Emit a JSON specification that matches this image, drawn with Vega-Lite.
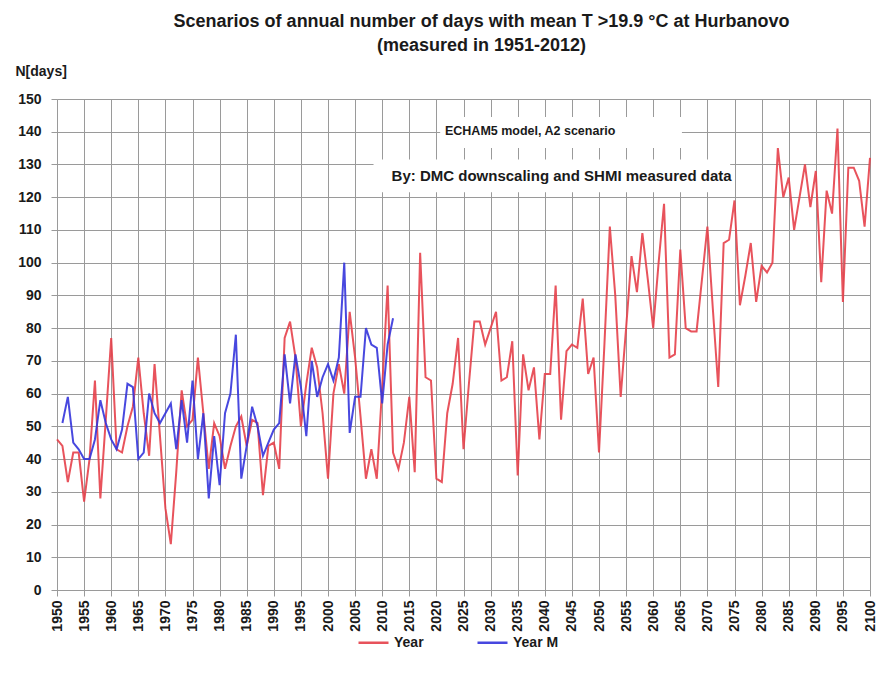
{
  "$schema": "https://vega.github.io/schema/vega-lite/v6.json",
  "width": 813,
  "height": 491,
  "autosize": "none",
  "padding": {"left": 57, "top": 99, "right": 9, "bottom": 87},
  "background": "white",
  "title": {
    "text": ["Scenarios of annual number of days with mean T >19.9 °C at Hurbanovo", "(measured in 1951-2012)"],
    "font": "Liberation Sans",
    "fontSize": 18,
    "fontWeight": "bold",
    "color": "#1a1a1a",
    "anchor": "middle",
    "frame": "group",
    "dx": 18,
    "offset": 9,
    "lineHeight": 24
  },
  "config": {
    "view": {"stroke": null},
    "font": "Liberation Sans",
    "axis": {
      "gridColor": "#9a9a9a",
      "gridWidth": 1,
      "gridOpacity": 1,
      "domainColor": "#9a9a9a",
      "tickColor": "#9a9a9a",
      "tickSize": 6,
      "labelFont": "Liberation Sans",
      "labelFontWeight": "bold",
      "labelColor": "#1a1a1a"
    },
    "axisX": {
      "title": null,
      "format": "d",
      "labelAngle": -90,
      "labelFontSize": 14,
      "labelPadding": 4,
      "labelOverlap": false
    },
    "axisY": {
      "labelOverlap": false,
      "labelFontSize": 14,
      "labelPadding": 10,
      "titleAngle": 0,
      "titleAlign": "left",
      "titleBaseline": "middle",
      "titleX": -42,
      "titleY": -28,
      "titleFont": "Liberation Sans",
      "titleFontSize": 14,
      "titleFontWeight": "bold",
      "titleColor": "#1a1a1a"
    }
  },
  "datasets": {
    "series": [
      {"year": 1950, "days": 46, "series": "Year"},
      {"year": 1951, "days": 44, "series": "Year"},
      {"year": 1952, "days": 33, "series": "Year"},
      {"year": 1953, "days": 42, "series": "Year"},
      {"year": 1954, "days": 42, "series": "Year"},
      {"year": 1955, "days": 27, "series": "Year"},
      {"year": 1956, "days": 40, "series": "Year"},
      {"year": 1957, "days": 64, "series": "Year"},
      {"year": 1958, "days": 28, "series": "Year"},
      {"year": 1959, "days": 52, "series": "Year"},
      {"year": 1960, "days": 77, "series": "Year"},
      {"year": 1961, "days": 43, "series": "Year"},
      {"year": 1962, "days": 42, "series": "Year"},
      {"year": 1963, "days": 50, "series": "Year"},
      {"year": 1964, "days": 56, "series": "Year"},
      {"year": 1965, "days": 71, "series": "Year"},
      {"year": 1966, "days": 54, "series": "Year"},
      {"year": 1967, "days": 41, "series": "Year"},
      {"year": 1968, "days": 69, "series": "Year"},
      {"year": 1969, "days": 47, "series": "Year"},
      {"year": 1970, "days": 25, "series": "Year"},
      {"year": 1971, "days": 14, "series": "Year"},
      {"year": 1972, "days": 36, "series": "Year"},
      {"year": 1973, "days": 61, "series": "Year"},
      {"year": 1974, "days": 50, "series": "Year"},
      {"year": 1975, "days": 52, "series": "Year"},
      {"year": 1976, "days": 71, "series": "Year"},
      {"year": 1977, "days": 54, "series": "Year"},
      {"year": 1978, "days": 37, "series": "Year"},
      {"year": 1979, "days": 51, "series": "Year"},
      {"year": 1980, "days": 47, "series": "Year"},
      {"year": 1981, "days": 37, "series": "Year"},
      {"year": 1982, "days": 44, "series": "Year"},
      {"year": 1983, "days": 50, "series": "Year"},
      {"year": 1984, "days": 53, "series": "Year"},
      {"year": 1985, "days": 44, "series": "Year"},
      {"year": 1986, "days": 52, "series": "Year"},
      {"year": 1987, "days": 51, "series": "Year"},
      {"year": 1988, "days": 29, "series": "Year"},
      {"year": 1989, "days": 44, "series": "Year"},
      {"year": 1990, "days": 45, "series": "Year"},
      {"year": 1991, "days": 37, "series": "Year"},
      {"year": 1992, "days": 77, "series": "Year"},
      {"year": 1993, "days": 82, "series": "Year"},
      {"year": 1994, "days": 71, "series": "Year"},
      {"year": 1995, "days": 50, "series": "Year"},
      {"year": 1996, "days": 63, "series": "Year"},
      {"year": 1997, "days": 74, "series": "Year"},
      {"year": 1998, "days": 68, "series": "Year"},
      {"year": 1999, "days": 54, "series": "Year"},
      {"year": 2000, "days": 34, "series": "Year"},
      {"year": 2001, "days": 60, "series": "Year"},
      {"year": 2002, "days": 69, "series": "Year"},
      {"year": 2003, "days": 60, "series": "Year"},
      {"year": 2004, "days": 85, "series": "Year"},
      {"year": 2005, "days": 71, "series": "Year"},
      {"year": 2006, "days": 53, "series": "Year"},
      {"year": 2007, "days": 34, "series": "Year"},
      {"year": 2008, "days": 43, "series": "Year"},
      {"year": 2009, "days": 34, "series": "Year"},
      {"year": 2010, "days": 62, "series": "Year"},
      {"year": 2011, "days": 93, "series": "Year"},
      {"year": 2012, "days": 42, "series": "Year"},
      {"year": 2013, "days": 37, "series": "Year"},
      {"year": 2014, "days": 45, "series": "Year"},
      {"year": 2015, "days": 59, "series": "Year"},
      {"year": 2016, "days": 36, "series": "Year"},
      {"year": 2017, "days": 103, "series": "Year"},
      {"year": 2018, "days": 65, "series": "Year"},
      {"year": 2019, "days": 64, "series": "Year"},
      {"year": 2020, "days": 34, "series": "Year"},
      {"year": 2021, "days": 33, "series": "Year"},
      {"year": 2022, "days": 54, "series": "Year"},
      {"year": 2023, "days": 63, "series": "Year"},
      {"year": 2024, "days": 77, "series": "Year"},
      {"year": 2025, "days": 43, "series": "Year"},
      {"year": 2026, "days": 63, "series": "Year"},
      {"year": 2027, "days": 82, "series": "Year"},
      {"year": 2028, "days": 82, "series": "Year"},
      {"year": 2029, "days": 75, "series": "Year"},
      {"year": 2030, "days": 80, "series": "Year"},
      {"year": 2031, "days": 85, "series": "Year"},
      {"year": 2032, "days": 64, "series": "Year"},
      {"year": 2033, "days": 65, "series": "Year"},
      {"year": 2034, "days": 76, "series": "Year"},
      {"year": 2035, "days": 35, "series": "Year"},
      {"year": 2036, "days": 72, "series": "Year"},
      {"year": 2037, "days": 61, "series": "Year"},
      {"year": 2038, "days": 68, "series": "Year"},
      {"year": 2039, "days": 46, "series": "Year"},
      {"year": 2040, "days": 66, "series": "Year"},
      {"year": 2041, "days": 66, "series": "Year"},
      {"year": 2042, "days": 93, "series": "Year"},
      {"year": 2043, "days": 52, "series": "Year"},
      {"year": 2044, "days": 73, "series": "Year"},
      {"year": 2045, "days": 75, "series": "Year"},
      {"year": 2046, "days": 74, "series": "Year"},
      {"year": 2047, "days": 89, "series": "Year"},
      {"year": 2048, "days": 66, "series": "Year"},
      {"year": 2049, "days": 71, "series": "Year"},
      {"year": 2050, "days": 42, "series": "Year"},
      {"year": 2051, "days": 75, "series": "Year"},
      {"year": 2052, "days": 111, "series": "Year"},
      {"year": 2053, "days": 90, "series": "Year"},
      {"year": 2054, "days": 59, "series": "Year"},
      {"year": 2055, "days": 80, "series": "Year"},
      {"year": 2056, "days": 102, "series": "Year"},
      {"year": 2057, "days": 91, "series": "Year"},
      {"year": 2058, "days": 109, "series": "Year"},
      {"year": 2059, "days": 95, "series": "Year"},
      {"year": 2060, "days": 80, "series": "Year"},
      {"year": 2061, "days": 100, "series": "Year"},
      {"year": 2062, "days": 118, "series": "Year"},
      {"year": 2063, "days": 71, "series": "Year"},
      {"year": 2064, "days": 72, "series": "Year"},
      {"year": 2065, "days": 104, "series": "Year"},
      {"year": 2066, "days": 80, "series": "Year"},
      {"year": 2067, "days": 79, "series": "Year"},
      {"year": 2068, "days": 79, "series": "Year"},
      {"year": 2069, "days": 95, "series": "Year"},
      {"year": 2070, "days": 111, "series": "Year"},
      {"year": 2071, "days": 86, "series": "Year"},
      {"year": 2072, "days": 62, "series": "Year"},
      {"year": 2073, "days": 106, "series": "Year"},
      {"year": 2074, "days": 107, "series": "Year"},
      {"year": 2075, "days": 119, "series": "Year"},
      {"year": 2076, "days": 87, "series": "Year"},
      {"year": 2077, "days": 96, "series": "Year"},
      {"year": 2078, "days": 106, "series": "Year"},
      {"year": 2079, "days": 88, "series": "Year"},
      {"year": 2080, "days": 99, "series": "Year"},
      {"year": 2081, "days": 97, "series": "Year"},
      {"year": 2082, "days": 100, "series": "Year"},
      {"year": 2083, "days": 135, "series": "Year"},
      {"year": 2084, "days": 120, "series": "Year"},
      {"year": 2085, "days": 126, "series": "Year"},
      {"year": 2086, "days": 110, "series": "Year"},
      {"year": 2087, "days": 120, "series": "Year"},
      {"year": 2088, "days": 130, "series": "Year"},
      {"year": 2089, "days": 117, "series": "Year"},
      {"year": 2090, "days": 128, "series": "Year"},
      {"year": 2091, "days": 94, "series": "Year"},
      {"year": 2092, "days": 122, "series": "Year"},
      {"year": 2093, "days": 115, "series": "Year"},
      {"year": 2094, "days": 141, "series": "Year"},
      {"year": 2095, "days": 88, "series": "Year"},
      {"year": 2096, "days": 129, "series": "Year"},
      {"year": 2097, "days": 129, "series": "Year"},
      {"year": 2098, "days": 125, "series": "Year"},
      {"year": 2099, "days": 111, "series": "Year"},
      {"year": 2100, "days": 132, "series": "Year"},
      {"year": 1951, "days": 51, "series": "Year M"},
      {"year": 1952, "days": 59, "series": "Year M"},
      {"year": 1953, "days": 45, "series": "Year M"},
      {"year": 1954, "days": 43, "series": "Year M"},
      {"year": 1955, "days": 40, "series": "Year M"},
      {"year": 1956, "days": 40, "series": "Year M"},
      {"year": 1957, "days": 46, "series": "Year M"},
      {"year": 1958, "days": 58, "series": "Year M"},
      {"year": 1959, "days": 51, "series": "Year M"},
      {"year": 1960, "days": 46, "series": "Year M"},
      {"year": 1961, "days": 43, "series": "Year M"},
      {"year": 1962, "days": 49, "series": "Year M"},
      {"year": 1963, "days": 63, "series": "Year M"},
      {"year": 1964, "days": 62, "series": "Year M"},
      {"year": 1965, "days": 40, "series": "Year M"},
      {"year": 1966, "days": 42, "series": "Year M"},
      {"year": 1967, "days": 60, "series": "Year M"},
      {"year": 1968, "days": 54, "series": "Year M"},
      {"year": 1969, "days": 51, "series": "Year M"},
      {"year": 1970, "days": 54, "series": "Year M"},
      {"year": 1971, "days": 57, "series": "Year M"},
      {"year": 1972, "days": 43, "series": "Year M"},
      {"year": 1973, "days": 58, "series": "Year M"},
      {"year": 1974, "days": 45, "series": "Year M"},
      {"year": 1975, "days": 64, "series": "Year M"},
      {"year": 1976, "days": 40, "series": "Year M"},
      {"year": 1977, "days": 54, "series": "Year M"},
      {"year": 1978, "days": 28, "series": "Year M"},
      {"year": 1979, "days": 47, "series": "Year M"},
      {"year": 1980, "days": 32, "series": "Year M"},
      {"year": 1981, "days": 54, "series": "Year M"},
      {"year": 1982, "days": 60, "series": "Year M"},
      {"year": 1983, "days": 78, "series": "Year M"},
      {"year": 1984, "days": 34, "series": "Year M"},
      {"year": 1985, "days": 44, "series": "Year M"},
      {"year": 1986, "days": 56, "series": "Year M"},
      {"year": 1987, "days": 50, "series": "Year M"},
      {"year": 1988, "days": 41, "series": "Year M"},
      {"year": 1989, "days": 45, "series": "Year M"},
      {"year": 1990, "days": 49, "series": "Year M"},
      {"year": 1991, "days": 51, "series": "Year M"},
      {"year": 1992, "days": 72, "series": "Year M"},
      {"year": 1993, "days": 57, "series": "Year M"},
      {"year": 1994, "days": 72, "series": "Year M"},
      {"year": 1995, "days": 62, "series": "Year M"},
      {"year": 1996, "days": 47, "series": "Year M"},
      {"year": 1997, "days": 70, "series": "Year M"},
      {"year": 1998, "days": 59, "series": "Year M"},
      {"year": 1999, "days": 65, "series": "Year M"},
      {"year": 2000, "days": 69, "series": "Year M"},
      {"year": 2001, "days": 64, "series": "Year M"},
      {"year": 2002, "days": 71, "series": "Year M"},
      {"year": 2003, "days": 100, "series": "Year M"},
      {"year": 2004, "days": 48, "series": "Year M"},
      {"year": 2005, "days": 59, "series": "Year M"},
      {"year": 2006, "days": 59, "series": "Year M"},
      {"year": 2007, "days": 80, "series": "Year M"},
      {"year": 2008, "days": 75, "series": "Year M"},
      {"year": 2009, "days": 74, "series": "Year M"},
      {"year": 2010, "days": 57, "series": "Year M"},
      {"year": 2011, "days": 75, "series": "Year M"},
      {"year": 2012, "days": 83, "series": "Year M"}
    ],
    "notes": [
      {"label": "ECHAM5 model, A2 scenario"},
      {"label": "By: DMC downscaling and SHMI measured data"}
    ]
  },
  "layer": [
    {
      "data": {"name": "series"},
      "mark": {"type": "line", "strokeWidth": 2, "opacity": 0.9},
      "encoding": {
        "x": {
          "field": "year",
          "type": "quantitative",
          "scale": {"domain": [1950, 2100], "nice": false, "zero": false},
          "axis": {"tickCount": 30}
        },
        "y": {
          "field": "days",
          "type": "quantitative",
          "scale": {"domain": [0, 150], "nice": false},
          "axis": {"title": "N[days]", "tickCount": 15}
        },
        "color": {
          "field": "series",
          "type": "nominal",
          "scale": {"domain": ["Year", "Year M"], "range": ["#e5404a", "#3434dc"]},
          "legend": {
            "title": null,
            "orient": "none",
            "direction": "horizontal",
            "legendX": 300,
            "legendY": 527,
            "symbolType": "stroke",
            "symbolSize": 900,
            "symbolStrokeWidth": 2.5,
            "labelFont": "Liberation Sans",
            "labelFontSize": 14,
            "labelFontWeight": "bold",
            "labelColor": "#1a1a1a",
            "labelOffset": 4,
            "columnPadding": 48
          }
        },
        "detail": {"field": "series"}
      }
    },
    {
      "data": {"values": [{}]},
      "mark": {"type": "rect", "color": "white"},
      "encoding": {
        "x": {"datum": 2020.7, "type": "quantitative", "axis": {"tickCount": 30}},
        "x2": {"datum": 2065.3},
        "y": {"datum": 144.5, "type": "quantitative", "axis": {"title": "N[days]", "tickCount": 15}},
        "y2": {"datum": 135}
      }
    },
    {
      "data": {"values": [{}]},
      "mark": {"type": "rect", "color": "white"},
      "encoding": {
        "x": {"datum": 2008.4, "type": "quantitative", "axis": {"tickCount": 30}},
        "x2": {"datum": 2074.2},
        "y": {"datum": 131.5, "type": "quantitative", "axis": {"title": "N[days]", "tickCount": 15}},
        "y2": {"datum": 121.5}
      }
    },
    {
      "data": {"name": "notes"},
      "transform": [{"filter": "datum.label === 'ECHAM5 model, A2 scenario'"}],
      "mark": {"type": "text", "font": "Liberation Sans", "fontSize": 12.5, "fontWeight": "bold", "color": "#1a1a1a", "align": "center", "baseline": "middle"},
      "encoding": {
        "x": {"datum": 2037.3, "type": "quantitative", "axis": {"tickCount": 30}},
        "y": {"datum": 140.3, "type": "quantitative", "axis": {"title": "N[days]", "tickCount": 15}},
        "text": {"field": "label"}
      }
    },
    {
      "data": {"name": "notes"},
      "transform": [{"filter": "datum.label !== 'ECHAM5 model, A2 scenario'"}],
      "mark": {"type": "text", "font": "Liberation Sans", "fontSize": 15, "fontWeight": "bold", "color": "#1a1a1a", "align": "center", "baseline": "middle"},
      "encoding": {
        "x": {"datum": 2043.1, "type": "quantitative", "axis": {"tickCount": 30}},
        "y": {"datum": 126.6, "type": "quantitative", "axis": {"title": "N[days]", "tickCount": 15}},
        "text": {"field": "label"}
      }
    }
  ]
}
